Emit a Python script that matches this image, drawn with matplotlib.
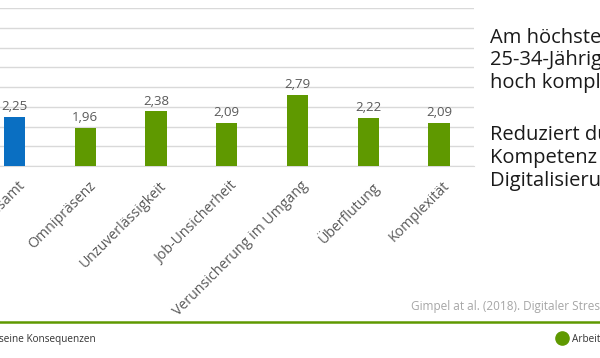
import matplotlib
matplotlib.use("Agg")
import matplotlib.pyplot as plt
from matplotlib.transforms import ScaledTranslation

plt.rcParams['font.family'] = ['Open Sans', 'DejaVu Sans']

# data
categories = ["Gesamt", "Omnipräsenz", "Unzuverlässigkeit", "Job-Unsicherheit",
              "Verunsicherung im Umgang", "Überflutung", "Komplexität"]
values = [2.25, 1.96, 2.38, 2.09, 2.79, 2.22, 2.09]
value_labels = ["2,25", "1,96", "2,38", "2,09", "2,79", "2,22", "2,09"]
bar_colors = ["#0a6fc2"] + ["#5f9900"] * 6

W, H = 600, 358
fig = plt.figure(figsize=(W / 100, H / 100), dpi=100)

# axes placed in pixel coords (left part cropped off like the slide)
x0, x1 = -21, 474.5
y_top, y_bot = 8, 166
ax = fig.add_axes([x0 / W, (H - y_bot) / H, (x1 - x0) / W, (y_bot - y_top) / H])

xs = range(len(categories))
ax.bar(xs, [v - 1 for v in values], bottom=1, width=0.3, color=bar_colors, zorder=3)
for x, v, lab in zip(xs, values, value_labels):
    ax.text(x, v + 0.1, lab, ha='center', va='bottom', fontsize=9.5, color='#595959')

ax.set_ylim(1, 5)
ax.set_xlim(-0.5, len(categories) - 0.5)
ax.set_yticks([1 + 0.5 * i for i in range(9)])
ax.yaxis.grid(True, color='#d9d9d9', linewidth=1)
ax.tick_params(axis='y', left=False, labelleft=False)
ax.tick_params(axis='x', length=0, pad=9)
ax.set_xticks(list(xs))
ax.set_xticklabels(categories, rotation=45, ha='right', rotation_mode='anchor',
                   fontsize=10.2, color='#595959')
shift = ScaledTranslation(3 / 100, 0, fig.dpi_scale_trans)
for lbl in ax.get_xticklabels():
    lbl.set_transform(lbl.get_transform() + shift)
for s in ['top', 'right', 'left']:
    ax.spines[s].set_visible(False)
ax.spines['bottom'].set_color('#d9d9d9')

# right text block (cut at the figure edge)
txt1 = ["Am höchsten bei den", "25-34-Jährigen und", "hoch komplexen Jobs"]
txt2 = ["Reduziert durch", "Kompetenz und", "Digitalisierungsgrad"]
for i, line in enumerate(txt1):
    fig.text(490 / W, 1 - (43 + 22.5 * i) / H, line, fontsize=14.5, color='#1a1a1a',
             ha='left', va='baseline')
for i, line in enumerate(txt2):
    fig.text(490 / W, 1 - (140 + 23 * i) / H, line, fontsize=14.5, color='#1a1a1a',
             ha='left', va='baseline')

# source + footer
fig.text(411 / W, 1 - 310 / H, "Gimpel at al. (2018). Digitaler Stress in Deutschland",
         fontsize=8.5, color='#a6a6a6', ha='left', va='baseline')
fig.add_artist(plt.Line2D([0, 1], [1 - 321.5 / H] * 2, color='#5f9900', linewidth=1.8,
                          transform=fig.transFigure))
fig.text(96 / W, 1 - 342 / H, "Digitaler Stress und seine Konsequenzen",
         fontsize=7.2, color='#333333', ha='right', va='baseline')
fig.add_artist(plt.Line2D([562 / W], [1 - 338 / H], marker='o', markersize=9.5,
                          color='#5f9900', transform=fig.transFigure))
fig.text(572 / W, 1 - 342 / H, "Arbeitswelt", fontsize=7.2, color='#333333',
         ha='left', va='baseline')

fig.savefig("out.png", dpi=100)
